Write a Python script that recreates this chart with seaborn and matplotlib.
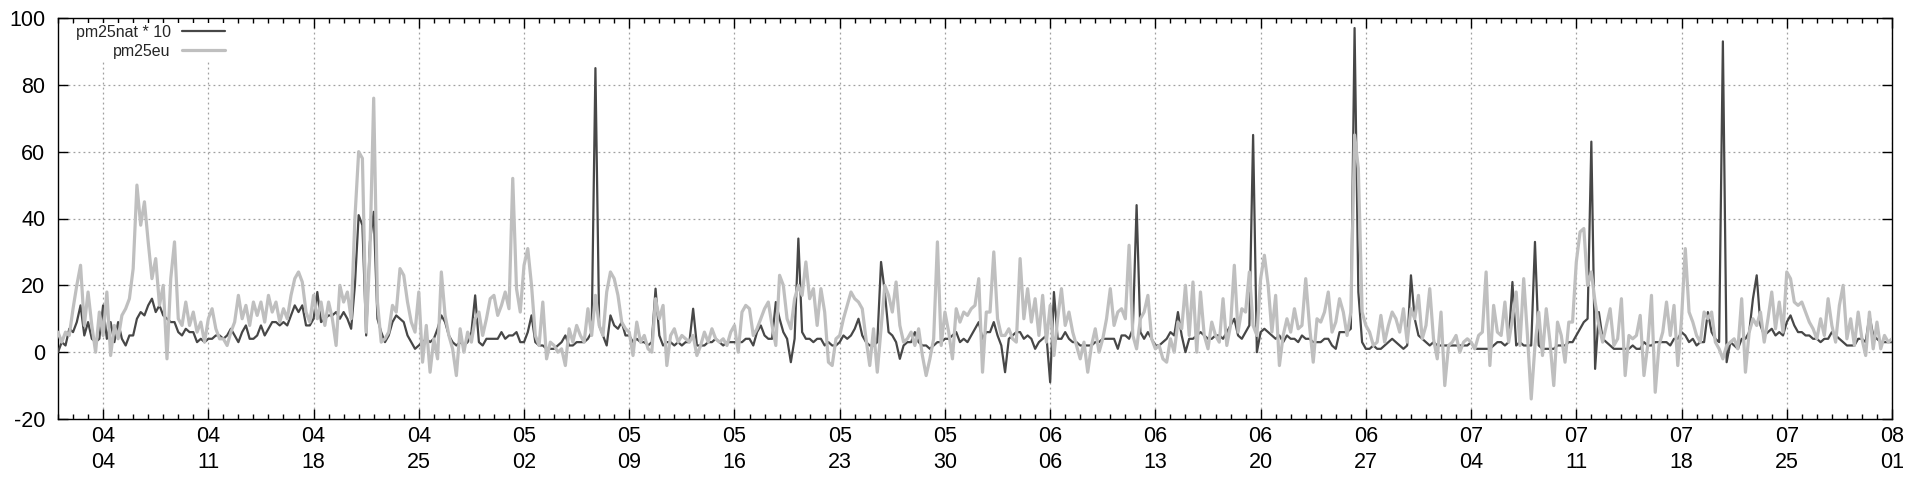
import numpy as np
import pandas as pd
import matplotlib
matplotlib.use("Agg")  # sem display
import matplotlib.pyplot as plt
import matplotlib.dates as mdates
import seaborn as sns

# serie a cada 6 horas, de 01/04 00h ate 01/08 00h
INICIO = "2012-04-01"
PASSO = "6h"

# pm25nat * 10 (linha escura)
pm25nat_x10 = [
    0, 3, 2, 7, 6, 9, 14, 5, 9, 4, 3, 4, 14, 4, 9, 3, 9, 4, 2, 5, 5, 10, 12, 11, 14, 16, 12, 14,
    11, 10, 9, 9, 6, 5, 7, 6, 6, 3, 4, 3, 4, 4, 5, 5, 4, 5, 7, 5, 3, 6, 8, 4, 4, 5, 8, 5,
    7, 9, 9, 8, 9, 8, 11, 14, 12, 14, 8, 8, 10, 18, 9, 10, 11, 11, 12, 10, 12, 10, 7, 20, 41, 38, 5, 33,
    42, 10, 6, 3, 5, 9, 11, 10, 9, 5, 3, 1, 2, 3, 4, 3, 4, 7, 11, 9, 5, 3, 2, 3, 2, 3, 6, 17,
    3, 2, 4, 4, 4, 4, 6, 4, 5, 5, 6, 3, 3, 6, 11, 3, 2, 2, 1, 1, 1, 2, 3, 5, 2, 2, 3, 3,
    3, 4, 6, 85, 8, 5, 2, 11, 8, 7, 9, 5, 5, 3, 4, 3, 3, 2, 3, 19, 5, 2, 3, 3, 2, 3, 2, 3,
    3, 13, 2, 2, 2, 3, 3, 4, 3, 2, 3, 3, 3, 3, 3, 4, 4, 2, 6, 8, 5, 4, 4, 15, 10, 6, 4, -3,
    4, 34, 6, 4, 4, 3, 4, 4, 2, 3, 2, 2, 3, 5, 4, 5, 7, 10, 5, 3, 2, 2, 3, 27, 18, 6, 5, 3,
    -2, 2, 3, 3, 6, 3, 2, 2, 1, 2, 3, 3, 4, 4, 5, 6, 3, 4, 3, 5, 7, 9, 4, 6, 6, 9, 5, 2,
    -6, 4, 5, 6, 6, 4, 5, 4, 1, 3, 4, 5, -9, 18, 4, 4, 6, 4, 3, 3, 2, 2, 2, 2, 3, 3, 4, 4,
    4, 4, 1, 5, 5, 4, 7, 44, 6, 4, 6, 4, 2, 2, 3, 4, 6, 5, 12, 5, 0, 4, 4, 5, 6, 5, 4, 4,
    5, 5, 4, 6, 8, 10, 5, 4, 6, 8, 65, 0, 6, 7, 6, 5, 4, 5, 3, 5, 4, 4, 3, 5, 4, 4, 3, 3,
    3, 4, 4, 2, 1, 6, 6, 6, 7, 97, 18, 3, 1, 1, 2, 1, 1, 2, 3, 4, 3, 2, 1, 2, 23, 10, 5, 4,
    3, 2, 3, 2, 2, 2, 2, 2, 2, 2, 2, 2, 3, 1, 1, 1, 1, 1, 2, 3, 3, 2, 3, 21, 2, 3, 2, 2,
    2, 33, 2, 1, 1, 1, 1, 2, 2, 2, 3, 3, 5, 7, 9, 10, 63, -5, 12, 4, 3, 2, 1, 1, 1, 1, 1, 2,
    1, 1, 3, 2, 2, 3, 3, 3, 3, 2, 4, 4, 6, 5, 3, 4, 2, 3, 3, 12, 6, 4, 3, 93, -3, 3, 2, 1,
    4, 4, 6, 16, 23, 8, 5, 6, 7, 5, 6, 5, 9, 11, 8, 6, 6, 5, 5, 4, 4, 3, 4, 4, 6, 5, 4, 3,
    2, 2, 2, 4, 4, 3, 11, 5, 4, 3, 3, 3, 3,
]

# pm25eu (linha clara)
pm25eu = [
    6, 3, 6, 5, 13, 20, 26, 8, 18, 8, 0, 12, 5, 18, -1, 8, 4, 11, 13, 16, 25, 50, 38, 45, 33, 22, 28, 14,
    20, -2, 22, 33, 10, 8, 15, 8, 12, 6, 9, 3, 10, 13, 7, 4, 4, 2, 6, 9, 17, 10, 14, 8, 15, 11, 15, 9,
    17, 12, 15, 9, 13, 10, 17, 22, 24, 21, 12, 9, 17, 10, 15, 8, 15, 10, 2, 20, 15, 18, 10, 40, 60, 58, 6, 30,
    76, 15, 3, 4, 6, 14, 12, 25, 23, 15, 9, 6, 18, -3, 8, -6, 4, -2, 24, 11, 5, 1, -7, 7, 0, 6, 3, 10,
    12, 5, 10, 16, 17, 11, 14, 18, 13, 52, 19, 12, 26, 31, 20, 5, 2, 15, -2, 3, 2, 0, 1, -4, 7, 3, 8, 5,
    3, 13, 5, 17, 8, 5, 18, 24, 22, 17, 9, 7, 6, -1, 9, 3, 5, 1, 0, 16, 10, 14, -4, 5, 7, 3, 5, 4,
    3, 5, -1, 2, 6, 3, 7, 4, 3, 4, 2, 6, 8, 0, 12, 14, 13, 5, 7, 10, 13, 15, 8, 2, 23, 20, 10, 7,
    16, 20, 17, 27, 16, 19, 8, 19, 12, -3, -4, 4, 5, 10, 14, 18, 16, 15, 13, 4, -4, 7, -6, 7, 20, 17, 12, 21,
    8, 3, 4, 6, 2, 7, -1, -7, -2, 4, 33, 2, 12, 6, -2, 13, 9, 12, 11, 13, 14, 22, -6, 12, 12, 30, 10, 5,
    5, 7, 4, 3, 28, 10, 19, 9, 16, 5, 17, 3, 14, -1, 10, 19, 8, 12, 6, 2, -2, 3, -6, 2, 7, 0, 4, 10,
    19, 8, 12, 13, 10, 32, 5, 1, 10, 12, 17, 4, 1, 2, -2, -3, 4, 0, 9, 7, 20, 5, 21, 0, 18, 5, 1, 9,
    5, 3, 16, 2, 8, 26, 6, 13, 12, 24, 8, 5, 22, 29, 20, 6, 17, -4, 5, 10, 6, 13, 7, 8, 22, 8, -3, 10,
    9, 12, 18, 6, 9, 16, 12, 5, 12, 65, 55, 12, 8, 6, 2, 3, 11, 3, 8, 12, 10, 6, 13, 3, 13, 10, 17, 4,
    8, 19, 4, -2, 12, -10, 2, 3, 5, 0, 3, 4, 3, 1, 5, 6, 24, -4, 14, 6, 5, 15, 3, 10, 18, 2, 22, 5,
    -14, 2, 12, -1, 13, 3, -10, 9, 5, -3, 9, 9, 27, 36, 37, 20, 24, 15, 8, 3, 8, 13, 2, 4, 16, -7, 5, 4,
    5, 11, -7, 2, 17, -12, 2, 6, 15, 5, 14, -4, 10, 31, 12, 9, 5, 3, 12, 10, 12, 3, 1, -2, 2, 3, 4, 1,
    16, -6, 6, 10, 8, 12, 3, 10, 18, 7, 15, 6, 24, 22, 15, 14, 15, 12, 9, 7, 4, 10, 5, 16, 8, 3, 14, 20,
    4, 10, 2, 12, 4, -1, 12, 1, 9, 1, 5, 3, 4,
]

Y_TICKS = [-20, 0, 20, 40, 60, 80, 100]

tempo = pd.date_range(INICIO, periods=len(pm25eu), freq=PASSO)
df = pd.DataFrame({"tempo": tempo, "nat": pm25nat_x10, "eu": pm25eu})

sns.set_style("ticks")
plt.rcParams["font.family"] = ["Liberation Sans", "DejaVu Sans"]
plt.rcParams["axes.unicode_minus"] = False

W, H = 1920, 480
fig = plt.figure(figsize=(W / 100, H / 100), dpi=100)
ax = fig.add_axes([58 / W, 61 / H, 1834 / W, 401 / H])

sns.lineplot(data=df, x="tempo", y="nat", color="#474747", linewidth=1.6,
             ax=ax, label="pm25nat * 10", zorder=3)
sns.lineplot(data=df, x="tempo", y="eu", color="#bfbfbf", linewidth=2.3,
             ax=ax, label="pm25eu", zorder=4)

ax.set_xlim(tempo[0], tempo[-1])
ax.set_ylim(-20, 100)
ax.set_yticks(Y_TICKS)
ax.set_xlabel("")
ax.set_ylabel("")

ax.xaxis.set_major_locator(mdates.WeekdayLocator(byweekday=mdates.WE))
ax.xaxis.set_minor_locator(mdates.DayLocator())
ax.xaxis.set_major_formatter(mdates.DateFormatter("%m\n%d"))

ax.grid(True, which="major", color="#a0a0a0", linestyle=(0, (1.5, 2.5)), linewidth=0.9)
ax.set_axisbelow(True)
for s in ax.spines.values():
    s.set_visible(True)
    s.set_color("black")
    s.set_linewidth(1.0)

ax.tick_params(which="both", direction="in", top=True, right=True, colors="black",
               labelsize=15.5)
ax.tick_params(which="major", length=7, width=1)
ax.tick_params(which="minor", length=3.5, width=1)
ax.tick_params(axis="y", pad=9)
ax.tick_params(axis="x", pad=5)
plt.setp(ax.get_xticklabels(), linespacing=1.3)

leg = ax.legend(loc="upper right", bbox_to_anchor=((226.5 - 58) / 1834, 1 - 5 / 401),
                markerfirst=False, frameon=True, facecolor="white", edgecolor="none",
                framealpha=1, fancybox=False, fontsize=11.5, handlelength=2.7,
                handletextpad=0.7, labelspacing=0.25, borderaxespad=0, borderpad=0.1)
leg.set_zorder(10)

fig.savefig("out.png", dpi=100)
plt.close(fig)
